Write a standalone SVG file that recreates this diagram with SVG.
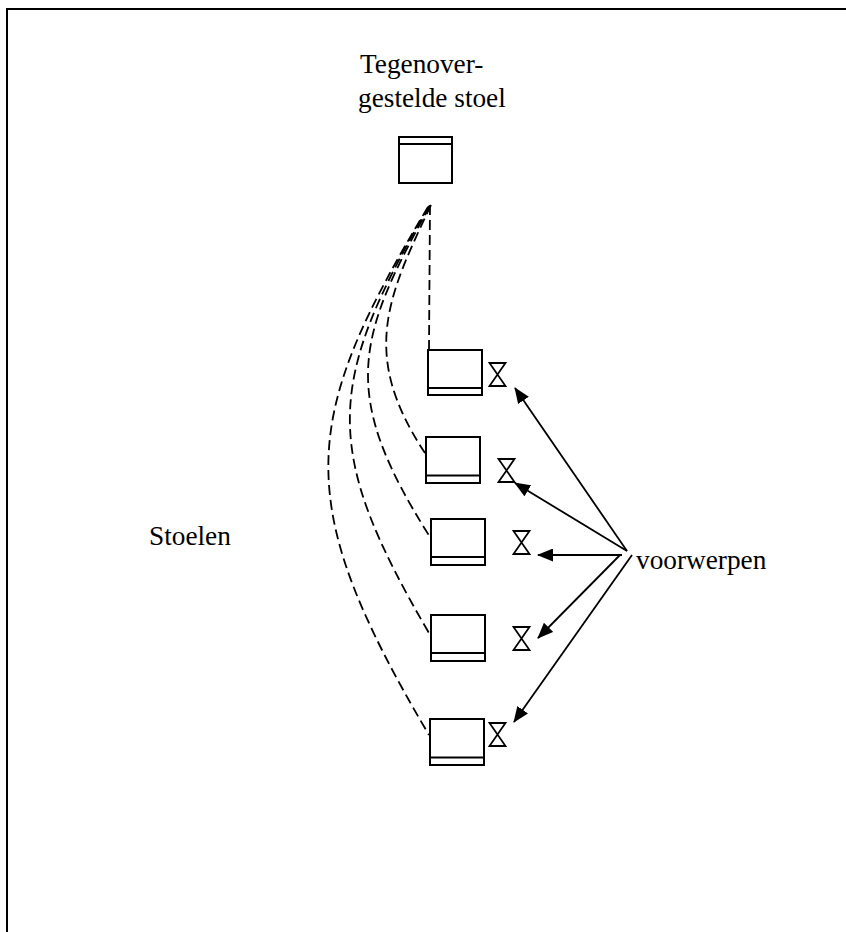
<svg xmlns="http://www.w3.org/2000/svg" width="846" height="932" viewBox="0 0 846 932">
<defs>
<style>
.t{font-family:"Liberation Serif","Times New Roman",serif;font-size:27.3px;fill:#000}
.box{fill:#fff;stroke:#000;stroke-width:2}
.ln{stroke:#000;stroke-width:2}
.hg{fill:none;stroke:#000;stroke-width:1.8;stroke-linejoin:miter}
.d{fill:none;stroke:#000;stroke-width:1.8;stroke-dasharray:10 5}
.a{fill:none;stroke:#000;stroke-width:1.8;marker-end:url(#ah)}
</style>
<marker id="ah" viewBox="0 0 16 13" refX="15" refY="6.5" markerWidth="16" markerHeight="13" markerUnits="userSpaceOnUse" orient="auto">
<path d="M0,0 L16,6.5 L0,13 Z" fill="#000"/>
</marker>
</defs>
<rect x="0" y="0" width="846" height="932" fill="#fff"/>
<rect x="7" y="9" width="900" height="1000" fill="none" stroke="#000" stroke-width="2"/>

<g id="label-tegenover">
<text class="t" x="360" y="73">Tegenover-</text>
<text class="t" x="358" y="107">gestelde stoel</text>
</g>
<g id="label-stoelen"><text class="t" x="149" y="545">Stoelen</text></g>
<g id="label-voorwerpen"><text class="t" x="636" y="569">voorwerpen</text></g>

<g id="connectors">
<path class="d" d="M430,205 L429,349"/>
<path class="d" d="M431,205 C387,298 360,355 425,453"/>
<path class="d" d="M430,206 C355,340 340,395 430,537"/>
<path class="d" d="M429,206 C325,385 322,450 429,633"/>
<path class="d" d="M428,207 C300,420 290,500 429,735"/>
<path class="a" d="M627,551 L515,388"/>
<path class="a" d="M627,551 L515,483"/>
<path class="a" d="M622,555 L538,555"/>
<path class="a" d="M620,555 L538,638"/>
<path class="a" d="M632,555 L514,722"/>
</g>

<g id="chair-top">
<rect class="box" x="399" y="137" width="53" height="46"/>
<line class="ln" x1="399" y1="144" x2="452" y2="144"/>
</g>
<g id="chair-1">
<rect class="box" x="428" y="350" width="54" height="45"/>
<line class="ln" x1="428" y1="388" x2="482" y2="388"/>
</g>
<g id="chair-2">
<rect class="box" x="426" y="437" width="54" height="46"/>
<line class="ln" x1="426" y1="475.5" x2="480" y2="475.5"/>
</g>
<g id="chair-3">
<rect class="box" x="431" y="519" width="54" height="46"/>
<line class="ln" x1="431" y1="557" x2="485" y2="557"/>
</g>
<g id="chair-4">
<rect class="box" x="431" y="615" width="54" height="46"/>
<line class="ln" x1="431" y1="653" x2="485" y2="653"/>
</g>
<g id="chair-5">
<rect class="box" x="430" y="719" width="54" height="46"/>
<line class="ln" x1="430" y1="757.5" x2="484" y2="757.5"/>
</g>

<g id="object-1"><path class="hg" d="M489.5,363 H505.5 L489.5,386 H505.5 Z"/></g>
<g id="object-2"><path class="hg" d="M498.5,459 H514.5 L498.5,482 H514.5 Z"/></g>
<g id="object-3"><path class="hg" d="M513.5,531 H529.5 L513.5,554 H529.5 Z"/></g>
<g id="object-4"><path class="hg" d="M513.5,627 H529.5 L513.5,650 H529.5 Z"/></g>
<g id="object-5"><path class="hg" d="M489.5,723 H505.5 L489.5,746 H505.5 Z"/></g>
</svg>
